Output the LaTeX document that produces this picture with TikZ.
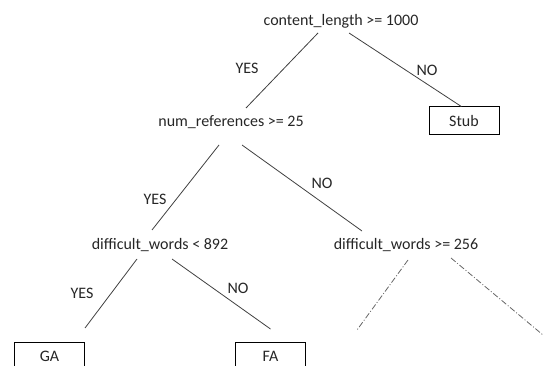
\documentclass[tikz,border=0pt]{standalone}
\usepackage{fontspec}
\setmainfont{Carlito}
\begin{document}
\begin{tikzpicture}[x=0.75pt,y=-0.75pt,
	cond/.style={inner sep=0pt,text=black!85,font=\fontsize{12}{14}\selectfont},
	leaf/.style={draw,line width=0.75pt,minimum width=52.5pt,minimum height=21pt,inner sep=0pt,text=black!85,font=\fontsize{12}{14}\selectfont},
	lbl/.style={inner sep=0pt,text=black!85,font=\fontsize{12}{14}\selectfont},
	edge/.style={line width=0.6pt,black!75},
	tbd/.style={edge,black!60,dash pattern=on 4.5pt off 1.5pt on 0.75pt off 1.5pt}]
	\useasboundingbox (0,0) rectangle (545,366);
	
	% decision nodes
	\node [cond] (root) at (341,21) {content\_length >= 1000};
	\node [cond] (refs) at (231,122) {num\_references >= 25};
	\node [cond] (diffA) at (160,245) {difficult\_words < 892};
	\node [cond] (diffB) at (406,245) {difficult\_words >= 256};
	
	% leaves
	\node [leaf] (stub) at (464,121) {Stub};
	\node [leaf] (ga) at (49.5,356) {GA};
	\node [leaf] (fa) at (270.5,356) {FA};
	
	% open ends below the right subtree
	\coordinate (openL) at (357,330);
	\coordinate (openR) at (543,335);
	
	\draw[edge] ([shift={(-23,12)}]root.center) -- ([shift={(15,-14)}]refs.center);
	\draw[edge] ([shift={(8,12)}]root.center) -- ([xshift=-2pt]stub.north);
	\draw[edge] ([shift={(-12,23)}]refs.center) -- ([shift={(-8,-15)}]diffA.center);
	\draw[edge] ([shift={(11,23)}]refs.center) -- ([shift={(-44,-14)}]diffB.center);
	\draw[edge] ([shift={(-23,14)}]diffA.center) -- ([shift={(35.5,-28)}]ga.center);
	\draw[edge] ([shift={(12,14)}]diffA.center) -- ([shift={(0,-27)}]fa.center);
	\draw[tbd] ([shift={(2,15)}]diffB.center) -- (openL);
	\draw[tbd] ([shift={(45,13)}]diffB.center) -- (openR);
	
	% branch labels
	\node [lbl] at (247,68) {YES};
	\node [lbl] at (427,70) {NO};
	\node [lbl] at (155,199) {YES};
	\node [lbl] at (322,183) {NO};
	\node [lbl] at (82,293) {YES};
	\node [lbl] at (238,288) {NO};
	
\end{tikzpicture}
\end{document}
